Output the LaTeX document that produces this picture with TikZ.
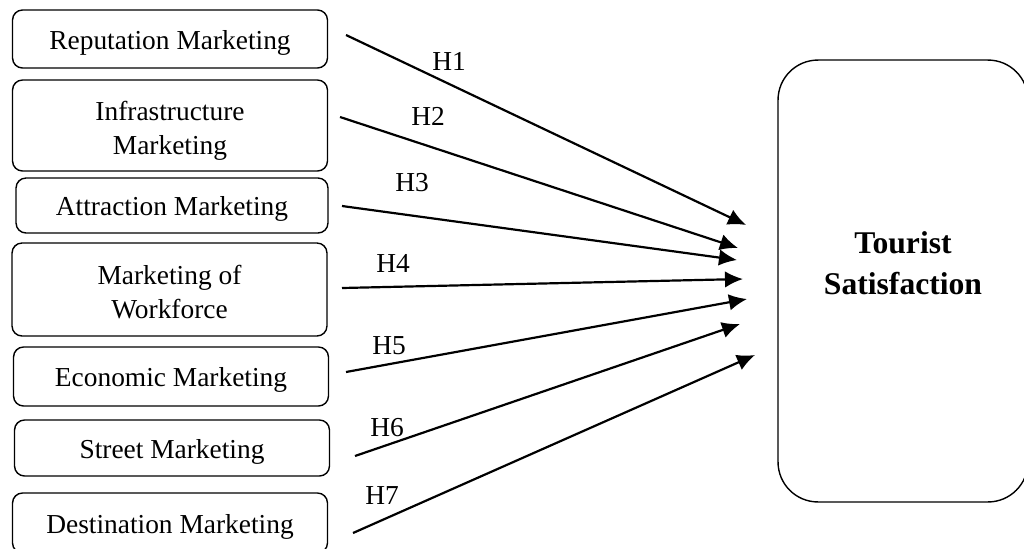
\documentclass[tikz,border=0pt]{standalone}
\usepackage{fontspec}
\setmainfont{Liberation Serif}
\usetikzlibrary{arrows.meta}
\tikzset{%
  >={Latex[width=3.3mm,length=3.6mm]},
  % Specifications for style of nodes:
        factor/.style = {rectangle, rounded corners=2mm, draw=black,
                         line width=0.8pt, minimum width=6.3cm,
                         align=center, font=\fontsize{15.6}{19.5}\selectfont},
      oneline/.style = {factor, text height=14.8pt, text depth=3.4pt},
      twoline/.style = {factor, text height=36.6pt, text depth=3.4pt},
       outcome/.style = {rectangle, rounded corners=8mm, draw=black,
                         line width=0.8pt, minimum width=5cm,
                         minimum height=8.84cm, text depth=0.72cm,
                         align=center, font=\fontsize{18}{23.5}\selectfont\bfseries},
           hyp/.style = {font=\fontsize{15.6}{19}\selectfont},
          link/.style = {->, line width=1.25pt},
}

\begin{document}
\begin{tikzpicture}[x=0.02cm, y=-0.02cm]
  \useasboundingbox (0,0) rectangle (1024,548);
  % Specification of nodes (position, etc.)
  \node (reputation)     [oneline, minimum height=1.16cm] at (170,39)    {Reputation Marketing};
  \node (infrastructure) [twoline, minimum height=1.82cm] at (170,125.5) {Infrastructure\\Marketing};
  \node (attraction)     [oneline, minimum width=6.24cm,
                          minimum height=1.1cm]           at (172,205.5) {Attraction Marketing};
  \node (workforce)      [twoline, minimum height=1.86cm] at (169.5,289.5) {Marketing of\\Workforce};
  \node (economic)       [oneline, minimum height=1.18cm] at (171,376.5) {Economic Marketing};
  \node (street)         [oneline, minimum height=1.12cm] at (172,448)   {Street Marketing};
  \node (destination)    [oneline, minimum height=1.2cm]  at (170,523)   {Destination Marketing};

  \node (satisfaction)   [outcome] at (903,281) {Tourist\\Satisfaction};

  % free ends of the arrows
  \coordinate (s1) at (346,35);  \coordinate (t1) at (746,225);
  \coordinate (s2) at (340,117); \coordinate (t2) at (738,248);
  \coordinate (s3) at (342,206); \coordinate (t3) at (737,260);
  \coordinate (s4) at (342,288); \coordinate (t4) at (743,279);
  \coordinate (s5) at (346,372); \coordinate (t5) at (747,299);
  \coordinate (s6) at (355,456); \coordinate (t6) at (740,324);
  \coordinate (s7) at (353,533); \coordinate (t7) at (755,355);

  % hypotheses
  \draw[link] (s1) -- (t1);
  \draw[link] (s2) -- (t2);
  \draw[link] (s3) -- (t3);
  \draw[link] (s4) -- (t4);
  \draw[link] (s5) -- (t5);
  \draw[link] (s6) -- (t6);
  \draw[link] (s7) -- (t7);

  \node (h1) [hyp] at (449,61)  {H1};
  \node (h2) [hyp] at (428,116) {H2};
  \node (h3) [hyp] at (412,183) {H3};
  \node (h4) [hyp] at (393,263) {H4};
  \node (h5) [hyp] at (389,346) {H5};
  \node (h6) [hyp] at (387,428) {H6};
  \node (h7) [hyp] at (382,496) {H7};
\end{tikzpicture}
\end{document}
